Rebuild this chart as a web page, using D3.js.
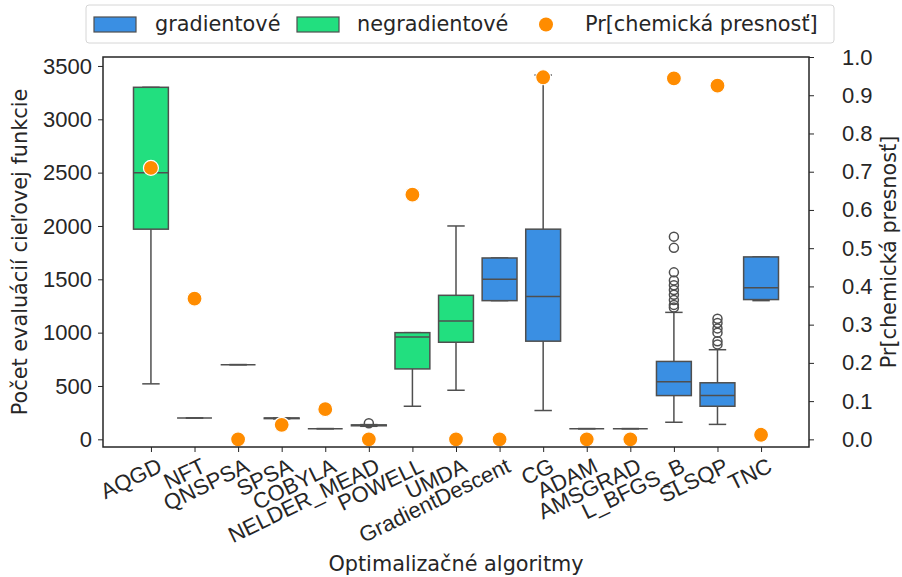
<!DOCTYPE html>
<html>
<head>
<meta charset="utf-8">
<script src="https://cdn.jsdelivr.net/npm/d3@7"></script>
<style>
  body { margin: 0; background: #fff; }
  svg { font-family: "DejaVu Sans", sans-serif; }
</style>
</head>
<body>
<div id="chart"></div>
<script>
// categories and their group (gradientové / negradientové)
const categories = ['AQGD', 'NFT', 'QNSPSA', 'SPSA', 'COBYLA', 'NELDER_MEAD', 'POWELL', 'UMDA',
  'GradientDescent', 'CG', 'ADAM', 'AMSGRAD', 'L_BFGS_B', 'SLSQP', 'TNC'];
const groups = ['neg', 'neg', 'neg', 'neg', 'neg', 'neg', 'neg', 'neg',
  'grad', 'grad', 'grad', 'grad', 'grad', 'grad', 'grad'];

// box statistics
const whiskLo = [520, 200, 700, 192, 100, 122, 310, 460, 1300, 270, 100, 100, 160, 140, 1300];
const q1 = [1970, 200, 700, 194, 100, 127, 660, 910, 1300, 920, 100, 100, 410, 310, 1310];
const median = [2500, 200, 700, 198, 100, 131, 960, 1110, 1500, 1340, 100, 100, 540, 410, 1420];
const q3 = [3300, 200, 700, 200, 100, 135, 1000, 1350, 1700, 1970, 100, 100, 730, 530, 1710];
const whiskHi = [3300, 200, 700, 200, 100, 138, 1000, 2000, 1700, 3415, 100, 100, 1190, 840, 1710];
const outliers = [[], [], [], [], [], [150], [], [], [], [], [], [],
  [1900, 1795, 1565, 1490, 1445, 1400, 1355, 1305, 1260, 1235],
  [1130, 1090, 1040, 1000, 920, 890], []];

// probability of chemical accuracy (right axis)
const prob = [0.71, 0.368, 0, 0.038, 0.079, 0, 0.64, 0, 0, 0.947, 0, 0, 0.944, 0.925, 0.012];

const leftTicks = [0, 500, 1000, 1500, 2000, 2500, 3000, 3500];
const rightTicks = [0, 0.1, 0.2, 0.3, 0.4, 0.5, 0.6, 0.7, 0.8, 0.9, 1.0];

const colors = { grad: '#3a8fe3', neg: '#22df7f' };
const edge = '#4f4f4f';
const textColor = '#262626';
const fontSize = '20.8px';
const tickFont = '22px';

const width = 902, height = 577;
const plot = { left: 103, right: 809, top: 57, bottom: 447 };

const svg = d3.select('#chart')
  .append('svg')
  .attr('width', width)
  .attr('height', height);

const x = d3.scaleLinear().domain([-1.1, 15.1]).range([plot.left, plot.right]);
const yL = d3.scaleLinear().domain([-72, 3584]).range([plot.bottom, plot.top]);
const yR = d3.scaleLinear().domain([-0.02, 1.0]).range([plot.bottom, plot.top]);
const bw = (x(1) - x(0)) * 0.8;

// boxes
const box = svg.append('g')
  .selectAll('g')
  .data(categories)
  .enter()
  .append('g');

box.append('line')
  .attr('x1', (d, i) => x(i)).attr('x2', (d, i) => x(i))
  .attr('y1', (d, i) => yL(whiskLo[i])).attr('y2', (d, i) => yL(q1[i]))
  .attr('stroke', edge).attr('stroke-width', 1.5);
box.append('line')
  .attr('x1', (d, i) => x(i)).attr('x2', (d, i) => x(i))
  .attr('y1', (d, i) => yL(q3[i])).attr('y2', (d, i) => yL(whiskHi[i]))
  .attr('stroke', edge).attr('stroke-width', 1.5);
[whiskLo, whiskHi].forEach(arr => {
  box.append('line')
    .attr('x1', (d, i) => x(i) - bw / 4).attr('x2', (d, i) => x(i) + bw / 4)
    .attr('y1', (d, i) => yL(arr[i])).attr('y2', (d, i) => yL(arr[i]))
    .attr('stroke', edge).attr('stroke-width', 1.5);
});
box.append('rect')
  .attr('x', (d, i) => x(i) - bw / 2)
  .attr('width', bw)
  .attr('y', (d, i) => yL(q3[i]))
  .attr('height', (d, i) => yL(q1[i]) - yL(q3[i]))
  .attr('fill', (d, i) => colors[groups[i]])
  .attr('stroke', edge).attr('stroke-width', 1.5);
box.append('line')
  .attr('x1', (d, i) => x(i) - bw / 2).attr('x2', (d, i) => x(i) + bw / 2)
  .attr('y1', (d, i) => yL(median[i])).attr('y2', (d, i) => yL(median[i]))
  .attr('stroke', edge).attr('stroke-width', 1.5);
box.each(function (d, i) {
  d3.select(this).selectAll('circle')
    .data(outliers[i])
    .enter()
    .append('circle')
    .attr('cx', x(i))
    .attr('cy', v => yL(v))
    .attr('r', 4.5)
    .attr('fill', 'none')
    .attr('stroke', edge).attr('stroke-width', 1.5);
});

// probability dots
svg.append('g')
  .selectAll('circle')
  .data(prob)
  .enter()
  .append('circle')
  .attr('cx', (d, i) => x(i))
  .attr('cy', d => yR(d))
  .attr('r', 7.5)
  .attr('fill', '#ff8c00')
  .attr('stroke', '#fff')
  .attr('stroke-width', 1.2);

// axes
const axL = svg.append('g')
  .attr('transform', 'translate(' + plot.left + ',0)')
  .call(d3.axisLeft(yL).tickValues(leftTicks).tickFormat(d3.format('d')).tickSize(5).tickPadding(6));
const axR = svg.append('g')
  .attr('transform', 'translate(' + plot.right + ',0)')
  .call(d3.axisRight(yR).tickValues(rightTicks).tickFormat(d3.format('.1f')).tickSize(5).tickPadding(28));
const axB = svg.append('g')
  .attr('transform', 'translate(0,' + plot.bottom + ')')
  .call(d3.axisBottom(x).tickValues(d3.range(categories.length)).tickFormat(i => categories[i]).tickSize(5));

[axL, axR, axB].forEach(a => {
  a.select('.domain').remove();
  a.selectAll('line').attr('stroke', textColor);
  a.selectAll('text').attr('fill', textColor).style('font-size', tickFont);
});
axB.selectAll('text')
  .attr('text-anchor', 'end')
  .attr('y', 0).attr('dy', 0)
  .attr('transform', 'translate(12,24) rotate(-26)');

// spines
svg.append('rect')
  .attr('x', plot.left).attr('y', plot.top)
  .attr('width', plot.right - plot.left).attr('height', plot.bottom - plot.top)
  .attr('fill', 'none')
  .attr('stroke', textColor).attr('stroke-width', 1.5);

// axis titles
svg.append('text')
  .attr('transform', 'translate(27,' + (plot.top + plot.bottom) / 2 + ') rotate(-90)')
  .attr('text-anchor', 'middle')
  .attr('fill', textColor).style('font-size', fontSize)
  .text('Počet evaluácií cieľovej funkcie');
svg.append('text')
  .attr('transform', 'translate(896,' + (plot.top + plot.bottom) / 2 + ') rotate(-90)')
  .attr('text-anchor', 'middle')
  .attr('fill', textColor).style('font-size', fontSize)
  .text('Pr[chemická presnosť]');
svg.append('text')
  .attr('x', (plot.left + plot.right) / 2).attr('y', 571)
  .attr('text-anchor', 'middle')
  .attr('fill', textColor).style('font-size', fontSize)
  .text('Optimalizačné algoritmy');

// legend
const legend = svg.append('g');
legend.append('rect')
  .attr('x', 86).attr('y', 5).attr('width', 748).attr('height', 38).attr('rx', 3)
  .attr('fill', '#fff').attr('stroke', '#d6d6d6');
legend.append('rect')
  .attr('x', 94).attr('y', 17).attr('width', 42).attr('height', 15)
  .attr('fill', colors.grad).attr('stroke', edge).attr('stroke-width', 1.2);
legend.append('text').attr('x', 155).attr('y', 31).text('gradientové');
legend.append('rect')
  .attr('x', 297).attr('y', 17).attr('width', 42).attr('height', 15)
  .attr('fill', colors.neg).attr('stroke', edge).attr('stroke-width', 1.2);
legend.append('text').attr('x', 357).attr('y', 31).text('negradientové');
legend.append('circle')
  .attr('cx', 546).attr('cy', 24.5).attr('r', 7)
  .attr('fill', '#ff8c00');
legend.append('text').attr('x', 585).attr('y', 31).text('Pr[chemická presnosť]');
legend.selectAll('text').attr('fill', textColor).style('font-size', fontSize);
</script>
</body>
</html>
